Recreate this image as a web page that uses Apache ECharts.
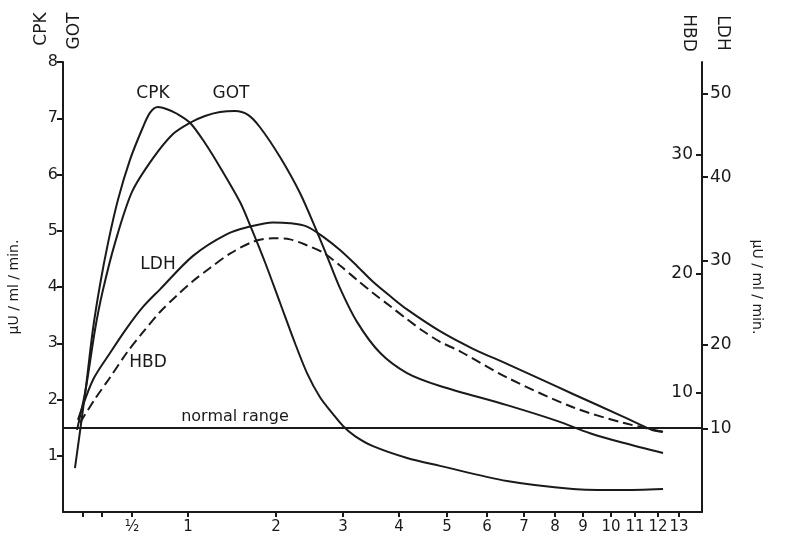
<!DOCTYPE html>
<html>
<head>
<meta charset="utf-8">
<script src="https://cdn.jsdelivr.net/npm/echarts@6/dist/echarts.min.js"></script>
<style>
  html, body { margin: 0; background: #fff; }
  #chart { width: 795px; height: 560px; }
</style>
</head>
<body>
<div id="chart"></div>
<script>
// time after infarction in days; the original time axis is drawn unevenly
const tickDays = [0.125, 0.25, 0.5, 1, 2, 3, 4, 5, 6, 7, 8, 9, 10, 11, 12, 13];
const tickLabels = ['', '', '½', '1', '2', '3', '4', '5', '6', '7', '8', '9', '10', '11', '12', '13'];
// axis scale: day -> position along the axis (0..639)
const scaleDays = [0, 0.125, 0.25, 0.5, 1, 2, 3, 4, 5, 6, 7, 8, 9, 10, 11, 12, 13, 14];
const scalePos  = [5, 20, 39, 69, 125, 213, 280, 336, 384, 424, 461, 492, 520, 548, 572, 595, 616, 637];

// left axis ticks (CPK, GOT) and right axes ticks (LDH, HBD)
const leftTicks = [1, 2, 3, 4, 5, 6, 7, 8];
const ldhTicks = [10, 20, 30, 40, 50];
const hbdTicks = [10, 20, 30];
const normalRange = 1.5;

// CPK (left axis)
const cpkDays   = [0.058, 0.142, 0.19, 0.237, 0.3, 0.383, 0.483, 0.589, 0.661, 0.732, 0.813, 0.902, 1.023, 1.193, 1.364, 1.591, 1.705, 1.875, 2.06, 2.284, 2.463, 2.657, 2.851, 3.0, 3.214, 3.536, 4.167, 4.854, 6.54, 8.64, 10.375, 12.24];
const cpkValues = [0.78, 2.17, 3.24, 4.04, 4.78, 5.55, 6.26, 6.8, 7.1, 7.2, 7.16, 7.08, 6.92, 6.56, 6.13, 5.51, 5.1, 4.44, 3.72, 3.0, 2.47, 2.04, 1.74, 1.53, 1.35, 1.17, 0.96, 0.82, 0.55, 0.41, 0.39, 0.41];

// GOT (left axis)
const gotDays   = [0.075, 0.142, 0.204, 0.254, 0.358, 0.5, 0.688, 0.866, 1.023, 1.193, 1.364, 1.534, 1.682, 1.818, 2.06, 2.358, 2.612, 2.761, 2.955, 3.25, 3.661, 4.167, 4.854, 6.54, 8.07, 9.25, 10.5, 12.24];
const gotValues = [1.46, 2.17, 3.24, 3.91, 4.78, 5.69, 6.29, 6.72, 6.92, 7.04, 7.11, 7.13, 7.06, 6.84, 6.31, 5.67, 4.98, 4.55, 3.98, 3.38, 2.83, 2.47, 2.24, 1.9, 1.62, 1.4, 1.23, 1.05];

// LDH (right axis, outer scale)
const ldhDays   = [0.083, 0.191, 0.317, 0.458, 0.598, 0.75, 1.057, 1.443, 1.705, 1.966, 2.209, 2.463, 2.701, 2.955, 3.25, 3.536, 3.84, 4.167, 4.854, 5.65, 6.54, 7.516, 8.64, 10.5, 11.75, 12.24];
const ldhValues = [11.0, 15.8, 19.0, 22.0, 24.5, 26.6, 30.6, 33.2, 34.1, 34.6, 34.5, 34.1, 32.9, 31.3, 29.4, 27.5, 25.8, 24.2, 21.6, 19.5, 17.7, 15.9, 14.1, 11.4, 9.8, 9.6];

// HBD (right axis, inner scale), dashed
const hbdDays   = [0.1, 0.204, 0.317, 0.458, 0.598, 0.75, 0.902, 1.057, 1.25, 1.477, 1.739, 1.966, 2.209, 2.463, 2.701, 2.955, 3.25, 3.536, 3.84, 4.167, 4.5, 4.854, 5.325, 6.54, 8.64, 10.5, 12.33];
const hbdValues = [7.5, 9.5, 11.3, 13.4, 15.1, 16.8, 18.2, 19.4, 20.5, 21.7, 22.7, 23.0, 22.9, 22.4, 21.8, 20.7, 19.5, 18.4, 17.3, 16.2, 15.2, 14.3, 13.5, 11.3, 8.8, 7.5, 6.7];

function dayToPos(d) {
  for (let i = 1; i < scaleDays.length; i++) {
    if (d <= scaleDays[i]) {
      const t = (d - scaleDays[i - 1]) / (scaleDays[i] - scaleDays[i - 1]);
      return scalePos[i - 1] + t * (scalePos[i] - scalePos[i - 1]);
    }
  }
  return scalePos[scalePos.length - 1];
}

function toPoints(days, values) {
  return days.map((d, i) => [dayToPos(d), values[i]]);
}

const tickPos = tickDays.map(dayToPos);
const labelMap = {};
tickDays.forEach((d, i) => { if (tickLabels[i]) labelMap[Math.round(tickPos[i])] = tickLabels[i]; });
const labelPos = tickPos.filter((p, i) => tickLabels[i]);

const ink = '#1a1a1a';
const font = '"DejaVu Sans", sans-serif';
const axisLine = { show: true, lineStyle: { color: ink, width: 2 } };

const myChart = echarts.init(document.getElementById('chart'));

const lineSeries = (name, data, yIdx, dashed) => ({
  name: name,
  type: 'line',
  yAxisIndex: yIdx,
  data: data,
  smooth: 0.3,
  showSymbol: false,
  silent: true,
  lineStyle: { color: ink, width: 2, type: dashed ? [10, 5] : 'solid' }
});

const text = (x, y, str, rot, size) => ({
  type: 'text', x: x, y: y, rotation: rot || 0,
  style: { text: str, font: (size || 17) + 'px ' + font, fill: ink, align: 'center', verticalAlign: 'middle' }
});

const option = {
  backgroundColor: '#fff',
  animation: false,
  grid: { left: 63, right: 93, top: 62, bottom: 48, outerBoundsMode: 'none' },
  xAxis: {
    type: 'value',
    min: 0,
    max: 639,
    axisLine: axisLine,
    splitLine: { show: false },
    axisTick: { customValues: tickPos, length: 5, lineStyle: { color: ink, width: 2 } },
    axisLabel: {
      customValues: labelPos,
      margin: 8,
      color: ink,
      fontSize: 15,
      fontFamily: font,
      formatter: v => labelMap[Math.round(v)] || ''
    }
  },
  yAxis: [
    {
      type: 'value', position: 'left', min: 0, max: 8, interval: 1,
      name: 'μU / ml / min.', nameLocation: 'middle', nameGap: 42, nameRotate: 90,
      nameTextStyle: { color: ink, fontSize: 14, fontFamily: font },
      axisLine: axisLine,
      splitLine: { show: false },
      axisTick: { customValues: leftTicks, length: 6, lineStyle: { color: ink, width: 2 } },
      axisLabel: { customValues: leftTicks, margin: 5, color: ink, fontSize: 16, fontFamily: font }
    },
    {
      type: 'value', position: 'right', min: 0, max: 53.76,
      name: 'μU / ml / min.', nameLocation: 'middle', nameGap: 48, nameRotate: -90,
      nameTextStyle: { color: ink, fontSize: 14, fontFamily: font },
      axisLine: axisLine,
      splitLine: { show: false },
      axisTick: { customValues: ldhTicks, length: 6, lineStyle: { color: ink, width: 2 } },
      axisLabel: { customValues: ldhTicks, margin: 8, color: ink, fontSize: 17, fontFamily: font }
    },
    {
      type: 'value', position: 'right', min: 0, max: 37.8,
      axisLine: { show: false },
      splitLine: { show: false },
      axisTick: { customValues: hbdTicks, inside: true, length: 6, lineStyle: { color: ink, width: 2 } },
      axisLabel: { customValues: hbdTicks, inside: true, margin: 9, color: ink, fontSize: 17, fontFamily: font }
    }
  ],
  series: [
    Object.assign(lineSeries('CPK', toPoints(cpkDays, cpkValues), 0, false), {
      markLine: {
        silent: true, symbol: 'none', label: { show: false },
        lineStyle: { color: ink, width: 2, type: 'solid' },
        data: [{ yAxis: normalRange }]
      }
    }),
    lineSeries('GOT', toPoints(gotDays, gotValues), 0, false),
    lineSeries('LDH', toPoints(ldhDays, ldhValues), 1, false),
    lineSeries('HBD', toPoints(hbdDays, hbdValues), 2, true)
  ],
  graphic: [
    text(42, 29, 'CPK', Math.PI / 2),
    text(75, 31, 'GOT', Math.PI / 2),
    text(688, 33, 'HBD', -Math.PI / 2),
    text(722, 33, 'LDH', -Math.PI / 2),
    text(153, 94, 'CPK'),
    text(231, 94, 'GOT'),
    text(158, 265, 'LDH'),
    text(148, 363, 'HBD'),
    text(235, 417, 'normal range', 0, 16)
  ]
};

myChart.setOption(option);
</script>
</body>
</html>
